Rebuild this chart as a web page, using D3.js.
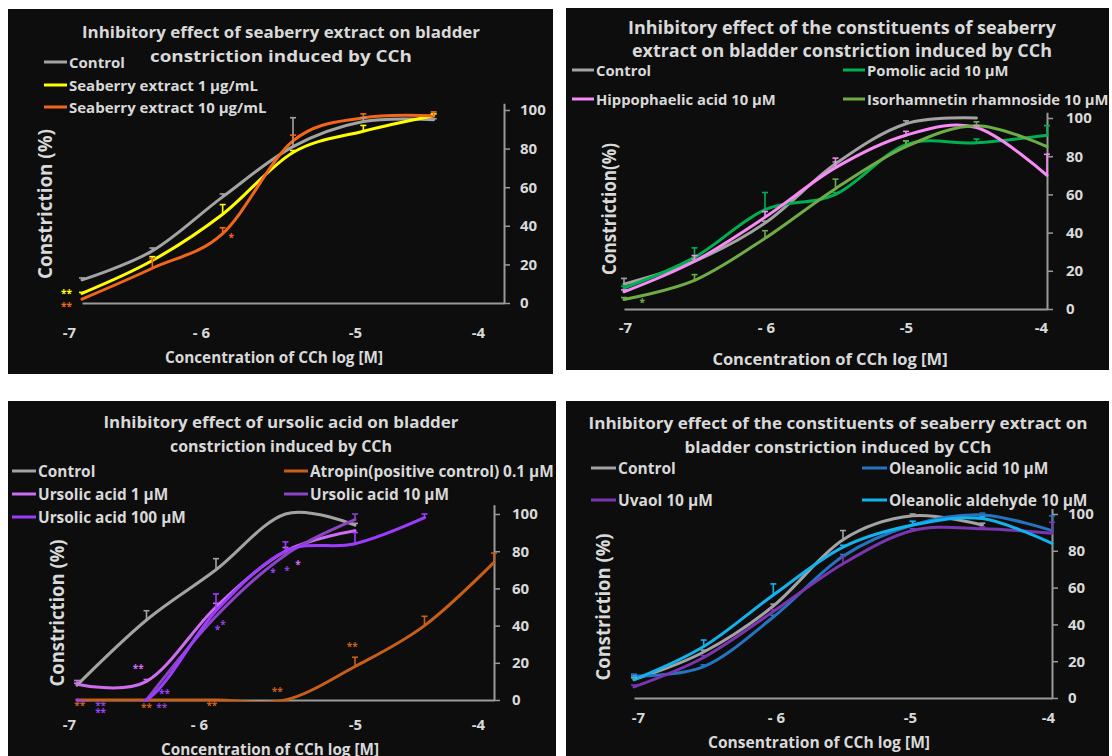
<!DOCTYPE html>
<html><head><meta charset="utf-8">
<script src="https://cdn.jsdelivr.net/npm/d3@7"></script>
<style>html,body{margin:0;padding:0;background:#fff;} svg{display:block;}</style>
</head><body><svg id="c" width="1112" height="756"></svg>
<script>
// ---------- shared data ----------
const conc = [-7, -6.5, -6, -5.5, -5, -4.5, -4];
const yTickValues = [0, 20, 40, 60, 80, 100];
const xTickValues = [-7, -6, -5, -4];
const xTickLabels = ["-7", "- 6", "-5", "-4"];

// ---------- panel A: seaberry extract ----------
const aTitle = ["Inhibitory effect of seaberry extract on bladder", "constriction induced by CCh"];
const aXTitle = "Concentration of CCh log [M]";
const aYTitle = "Constriction (%)";
const aNames = ["Control", "Seaberry extract 1 µg/mL", "Seaberry extract 10 µg/mL"];
const aControl = [12, 27, 55, 81, 94, 95];
const aControlErr = [1, 1.5, 1.5, 15, 2, 0.5];
const aSb1 = [5, 22, 46, 78, 89, 97];
const aSb1Err = [0.5, 2, 5, 1, 3, 1];
const aSb10 = [2, 18, 36, 84, 96, 97];
const aSb10Err = [0, 5, 3, 3, 2, 2];
const aStarX = [-7.11, -7.11, -5.94];
const aStarY = [5, -1.5, 34];
const aStarText = ["**", "**", "*"];
const aStarSeries = [1, 2, 2];

// ---------- panel B: constituents (1) ----------
const bTitle = ["Inhibitory effect of the constituents of seaberry", "extract on bladder constriction induced by CCh"];
const bXTitle = "Concentration of CCh log [M]";
const bYTitle = "Constriction(%)";
const bNames = ["Control", "Pomolic acid 10 µM", "Hippophaelic acid  10 µM", "Isorhamnetin rhamnoside  10 µM"];
const bControl = [13, 25, 45, 76, 97, 100];
const bControlErr = [3, 1, 1, 1, 1.5, 0];
const bPomolic = [11, 27, 52, 60, 86, 87, 91];
const bPomolicErr = [1, 5, 9, 1, 2, 2, 5];
const bHippo = [9, 25, 48, 74, 91, 95, 70];
const bHippoErr = [1, 3, 3, 5, 2, 1, 11];
const bIsorh = [5, 15, 37, 63, 85, 96, 85];
const bIsorhErr = [1, 3, 4, 5, 3, 2, 0];
const bStarX = [-6.87];
const bStarY = [3.5];
const bStarText = ["*"];
const bStarSeries = [3];

// ---------- panel C: ursolic acid ----------
const cTitle = ["Inhibitory effect of ursolic acid on bladder", "constriction induced by CCh"];
const cXTitle = "Concentration of CCh log [M]";
const cYTitle = "Constriction (%)";
const cNames = ["Control", "Atropin(positive control) 0.1 µM", "Ursolic acid 1 µM", "Ursolic acid 10 µM", "Ursolic acid 100 µM"];
const cControl = [8, 43, 70, 100, 94];
const cControlErr = [1, 5, 6, 0, 1];
const cAtropin = [0, 0, 0, 0, 18, 40, 74];
const cAtropinErr = [0, 0, 0, 0, 5, 5, 5];
const cU1 = [8.5, 10, 50, 80, 91];
const cU1Err = [2, 1, 2, 2, 0];
const cU10 = [null, 0, 45, 78, 97];
const cU10Err = [0, 0, 0, 1, 3];
const cU100 = [0, 0, 48, 80, 84, 98];
const cU100Err = [0, 0, 9, 5, 6, 2];
const cStarX = [-6.98, -6.5, -6.03, -5.56, -5.02, -6.83, -6.39, -6.83, -6.37, -6.56, -5.99, -5.95, -5.59, -5.49, -5.41];
const cStarY = [-2.5, -3.5, -2.5, 5, 29, -2.5, -3.5, -6.5, 4, 17, 38, 41, 69, 70, 73];
const cStarText = ["**", "**", "**", "**", "**", "**", "**", "**", "**", "**", "*", "*", "*", "*", "*"];
const cStarSeries = [1, 1, 1, 1, 1, 3, 3, 4, 4, 2, 4, 3, 4, 3, 2];

// ---------- panel D: constituents (2) ----------
const dTitle = ["Inhibitory effect of the constituents of seaberry extract on", "bladder constriction induced by CCh"];
const dXTitle = "Consentration of CCh log [M]";
const dYTitle = "Constriction (%)";
const dNames = ["Control", "Oleanolic acid 10 µM", "Uvaol 10 µM", "Oleanolic aldehyde 10 µM"];
const dControl = [10, 25, 50, 86, 99, 94];
const dControlErr = [1, 1, 1, 5, 1, 1];
const dOleAcid = [12, 17, 44, 77, 94, 99.5, 91];
const dOleAcidErr = [1, 1, 1, 1, 2, 1, 8];
const dUvaol = [6, 22, 47, 73, 91, 92, 89.5];
const dUvaolErr = [1, 1, 1, 4, 1, 1, 6];
const dOleAld = [10, 28, 56, 82, 94, 97.5, 84];
const dOleAldErr = [2, 3.5, 6, 1, 2, 1, 0];

// ---------- styling / layout ----------
const BG = "#0d0d0d", TXT = "#d9d9d9", AXIS = "#9a9a9a", GRAY = "#a3a3a3";
const FONT = "'Open Sans', Lato, sans-serif";
const WEIGHT = 700;

const panels = [
  { title: aTitle, xTitle: aXTitle, yTitle: aYTitle, names: aNames,
    values: [aControl, aSb1, aSb10], errs: [aControlErr, aSb1Err, aSb10Err],
    colors: [GRAY, "#ffff00", "#f2661c"],
    stars: { x: aStarX, y: aStarY, t: aStarText, s: aStarSeries },
    L: { box: [8, 9, 545, 365], xr: [82, 504], yr: [303, 110], yTop: 103.5,
         titleX: 281, titleY: [32, 56], titleSize: 16, titleLen: [398, 262],
         legend: [[44, 62], [44, 85], [44, 107]], legLen: 23, legSize: 15,
         xLab: [69, 201, 355, 478], xLabY: 333, tickSize: 15, tickPad: 10,
         xTitlePos: [274, 357], xTitleSize: 15.3, yTitlePos: [44, 204], yTitleSize: 20, yTitleLen: 150 } },
  { title: bTitle, xTitle: bXTitle, yTitle: bYTitle, names: bNames,
    values: [bControl, bPomolic, bHippo, bIsorh], errs: [bControlErr, bPomolicErr, bHippoErr, bIsorhErr],
    colors: [GRAY, "#00b050", "#f78af5", "#6fac46"],
    stars: { x: bStarX, y: bStarY, t: bStarText, s: bStarSeries },
    L: { box: [566, 8, 543, 362], xr: [624, 1047], yr: [309, 118], yTop: 103,
         titleX: 842, titleY: [27, 50], titleSize: 17, titleLen: [428, 420],
         legend: [[572, 70], [843, 70], [572, 99], [843, 99]], legLen: 22, legSize: 14.8,
         xLab: [625, 766, 906, 1041], xLabY: 328, tickSize: 15, tickPad: 13,
         xTitlePos: [830, 358], xTitleSize: 16.5, yTitlePos: [609, 209], yTitleSize: 19, yTitleLen: 132 } },
  { title: cTitle, xTitle: cXTitle, yTitle: cYTitle, names: cNames,
    values: [cControl, cAtropin, cU1, cU10, cU100], errs: [cControlErr, cAtropinErr, cU1Err, cU10Err, cU100Err],
    colors: [GRAY, "#c95f17", "#cf6df2", "#8b45c4", "#9d3cff"],
    stars: { x: cStarX, y: cStarY, t: cStarText, s: cStarSeries },
    L: { box: [8, 401, 548, 360], xr: [77, 494], yr: [700, 514], yTop: 105,
         titleX: 281, titleY: [422, 446], titleSize: 16, titleLen: [355, 222],
         legend: [[12, 471], [284, 471], [12, 494], [284, 494], [12, 517]], legLen: 24, legSize: 15.4,
         xLab: [69, 199, 355, 478], xLabY: 725, tickSize: 15, tickPad: 12,
         xTitlePos: [270, 749], xTitleSize: 15.3, yTitlePos: [56, 613], yTitleSize: 20, yTitleLen: 147 } },
  { title: dTitle, xTitle: dXTitle, yTitle: dYTitle, names: dNames,
    values: [dControl, dOleAcid, dUvaol, dOleAld], errs: [dControlErr, dOleAcidErr, dUvaolErr, dOleAldErr],
    colors: [GRAY, "#2474c0", "#7a35b0", "#12b2ee"],
    stars: { x: [], y: [], t: [], s: [] },
    L: { box: [566, 401, 543, 355], xr: [634, 1052], yr: [698, 514], yTop: 103,
         titleX: 838, titleY: [423, 447], titleSize: 16, titleLen: [499, 307],
         legend: [[591, 468], [862, 468], [591, 500], [862, 500]], legLen: 25, legSize: 15.5,
         xLab: [638, 776, 910, 1048], xLabY: 718, tickSize: 15, tickPad: 10,
         xTitlePos: [819, 742], xTitleSize: 15.6, yTitlePos: [602, 607], yTitleSize: 20, yTitleLen: 147 } }
];

const svg = d3.select("#c").attr("font-family", FONT);
svg.append("rect").attr("width", 1112).attr("height", 756).attr("fill", "#fff");

panels.forEach((P, pi) => {
  const L = P.L;
  const g = svg.append("g");
  g.append("rect").attr("x", L.box[0]).attr("y", L.box[1]).attr("width", L.box[2]).attr("height", L.box[3]).attr("fill", BG);

  const x = d3.scaleLinear().domain([-7, -4]).range(L.xr);
  const y = d3.scaleLinear().domain([0, 100]).range(L.yr);

  // title
  P.title.forEach((t, i) => {
    g.append("text").attr("x", L.titleX).attr("y", L.titleY[i]).attr("text-anchor", "middle")
      .attr("dominant-baseline", "central").attr("font-size", L.titleSize).attr("font-weight", WEIGHT)
      .attr("textLength", L.titleLen[i]).attr("lengthAdjust", "spacingAndGlyphs")
      .attr("fill", TXT).text(t);
  });

  // x axis line
  const xa = g.append("g").attr("transform", `translate(0,${y(0)})`)
    .call(d3.axisBottom(x).tickValues([]).tickSizeOuter(0));
  xa.select(".domain").attr("stroke", AXIS).attr("stroke-width", 2);

  // y axis on right
  const yAx = d3.scaleLinear().domain([0, L.yTop]).range([y(0), y(L.yTop)]);
  const ya = g.append("g").attr("transform", `translate(${x(-4)},0)`)
    .call(d3.axisRight(yAx).tickValues(yTickValues).tickSize(6).tickSizeOuter(0).tickPadding(L.tickPad).tickFormat(d3.format("d")));
  ya.attr("font-family", FONT).attr("font-size", L.tickSize);
  ya.select(".domain").attr("stroke", AXIS).attr("stroke-width", 2);
  ya.selectAll(".tick line").attr("stroke", AXIS).attr("stroke-width", 1.5);
  ya.selectAll(".tick text").attr("fill", TXT).attr("font-weight", WEIGHT);

  // x tick labels
  const labScale = d3.scaleLinear().domain(xTickValues).range(L.xLab);
  const xl = g.append("g").attr("transform", `translate(0,${L.xLabY})`)
    .call(d3.axisBottom(labScale).tickValues(xTickValues).tickFormat((d, i) => xTickLabels[i]).tickSize(0).tickPadding(0));
  xl.attr("font-family", FONT).attr("font-size", L.tickSize);
  xl.select(".domain").remove();
  xl.selectAll(".tick text").attr("fill", TXT).attr("font-weight", WEIGHT).attr("dy", "0.35em").attr("y", 0);

  // axis titles
  g.append("text").attr("x", L.xTitlePos[0]).attr("y", L.xTitlePos[1]).attr("text-anchor", "middle")
    .attr("dominant-baseline", "central").attr("font-size", L.xTitleSize).attr("font-weight", WEIGHT)
    .attr("fill", TXT).text(P.xTitle);
  g.append("text").attr("transform", `translate(${L.yTitlePos[0]},${L.yTitlePos[1]}) rotate(-90)`)
    .attr("text-anchor", "middle").attr("dominant-baseline", "central").attr("font-size", L.yTitleSize)
    .attr("textLength", L.yTitleLen).attr("lengthAdjust", "spacingAndGlyphs")
    .attr("font-weight", WEIGHT).attr("fill", TXT).text(P.yTitle);

  // clip lines at the x axis
  const clipId = "clip" + pi;
  g.append("clipPath").attr("id", clipId).append("rect")
    .attr("x", L.box[0]).attr("y", L.box[1]).attr("width", L.box[2]).attr("height", y(0) + 1.6 - L.box[1]);

  const line = d3.line().defined(d => d[1] != null)
    .x(d => x(d[0])).y(d => y(d[1])).curve(d3.curveCardinal.tension(0));

  const lines = g.append("g").attr("clip-path", `url(#${clipId})`);
  P.values.forEach((vals, si) => {
    const pts = vals.map((v, i) => [conc[i], v]);
    const col = P.colors[si];
    // error bars (plus direction)
    const eb = g.append("g").attr("stroke", col).attr("stroke-width", 1.6);
    pts.forEach((p, i) => {
      const e = P.errs[si][i];
      if (p[1] == null || !e) return;
      eb.append("line").attr("x1", x(p[0])).attr("x2", x(p[0])).attr("y1", y(p[1])).attr("y2", y(p[1] + e));
      eb.append("line").attr("x1", x(p[0]) - 3).attr("x2", x(p[0]) + 3).attr("y1", y(p[1] + e)).attr("y2", y(p[1] + e));
    });
    lines.append("path").attr("d", line(pts.filter(p => p[1] != null)))
      .attr("fill", "none").attr("stroke", col).attr("stroke-width", 3).attr("stroke-linecap", "round");
  });

  // significance stars
  P.stars.x.forEach((sx, i) => {
    g.append("text").attr("x", x(sx)).attr("y", y(P.stars.y[i])).attr("text-anchor", "middle")
      .attr("dominant-baseline", "central").attr("font-size", 10).attr("font-weight", WEIGHT)
      .attr("fill", P.colors[P.stars.s[i]]).text(P.stars.t[i]);
  });

  // legend
  P.names.forEach((n, i) => {
    const [lx, ly] = L.legend[i];
    g.append("line").attr("x1", lx).attr("x2", lx + L.legLen).attr("y1", ly).attr("y2", ly)
      .attr("stroke", P.colors[i]).attr("stroke-width", 3);
    g.append("text").attr("x", lx + L.legLen + 2).attr("y", ly).attr("dominant-baseline", "central")
      .attr("font-size", L.legSize).attr("font-weight", WEIGHT).attr("fill", TXT).text(n);
  });
});
</script>
</body></html>
